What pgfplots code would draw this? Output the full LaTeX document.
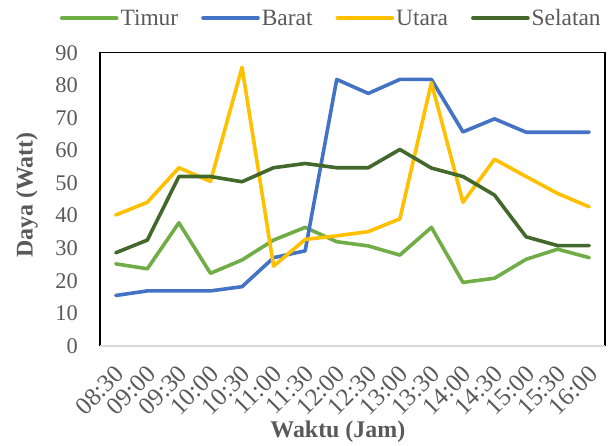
\documentclass[border=0pt]{standalone}
\usepackage{pgfplots}
\pgfplotsset{compat=1.18}
\usepackage{fontspec}
\setmainfont{Liberation Serif}
\definecolor{cTimur}{HTML}{70AD47}
\definecolor{cBarat}{HTML}{4472C4}
\definecolor{cUtara}{HTML}{FFC000}
\definecolor{cSelatan}{HTML}{43682B}
\definecolor{txt}{HTML}{595959}
\definecolor{bot}{HTML}{D9D9D9}
\begin{document}
\begin{tikzpicture}
\begin{axis}[
  scale only axis,
  width=505bp, height=293.3bp,
  xmin=-0.5, xmax=15.5, ymin=0, ymax=90,
  ytick={0,10,...,90},
  xtick={0,...,15},
  xticklabels={08:30,09:00,09:30,10:00,10:30,11:00,11:30,12:00,12:30,13:00,13:30,14:00,14:30,15:00,15:30,16:00},
  major tick length=0pt,
  axis line style={draw=none},
  /pgf/number format/assume math mode=true,
  tick label style={font=\fontsize{22.5}{25}\selectfont, text=txt},
  yticklabel style={inner sep=0pt, anchor=east, xshift=-22bp},
  xticklabel style={font=\fontsize{25}{27}\selectfont, inner sep=0pt, xshift=-2bp, yshift=-18bp, rotate=45, anchor=north east},
  xlabel={Waktu (Jam)},
  ylabel={Daya (Watt)},
  label style={font=\bfseries\fontsize{24}{27}\selectfont, text=txt},
  xlabel style={at={(axis description cs:0.471,0)}, anchor=center, yshift=-86bp},
  ylabel style={at={([xshift=-73bp]axis description cs:0,0.515)}, anchor=center},
  legend columns=4,
  legend style={at={(axis description cs:0.458,1.118)}, anchor=center, draw=none, fill=none,
    font=\fontsize{23.5}{26}\selectfont, text=txt, inner sep=0pt,
    nodes={inner sep=2bp},
    /tikz/every even column/.append style={column sep=21bp}},
  legend image code/.code={\draw[#1] (0bp,0bp) -- (55bp,0bp);},
  every axis plot/.append style={line width=3.6bp, line join=round, line cap=round},
  clip=false,
]
\addplot[cTimur] coordinates {(0,25.2)(1,23.7)(2,37.8)(3,22.3)(4,26.4)(5,32.5)(6,36.4)(7,32.0)(8,30.7)(9,27.9)(10,36.4)(11,19.5)(12,20.8)(13,26.6)(14,29.7)(15,27.1)};
\addlegendentry{Timur}
\addplot[cBarat] coordinates {(0,15.5)(1,16.9)(2,16.9)(3,16.9)(4,18.2)(5,27.1)(6,29.2)(7,81.8)(8,77.5)(9,81.8)(10,81.8)(11,65.7)(12,69.7)(13,65.6)(14,65.6)(15,65.6)};
\addlegendentry{Barat}
\addplot[cUtara] coordinates {(0,40.2)(1,44.1)(2,54.7)(3,50.5)(4,85.5)(5,24.5)(6,32.7)(7,33.8)(8,35.1)(9,39.0)(10,80.8)(11,44.1)(12,57.3)(13,52.0)(14,46.8)(15,42.7)};
\addlegendentry{Utara}
\addplot[cSelatan] coordinates {(0,28.6)(1,32.5)(2,52.0)(3,52.0)(4,50.4)(5,54.7)(6,56.0)(7,54.7)(8,54.7)(9,60.3)(10,54.6)(11,52.0)(12,46.3)(13,33.5)(14,30.8)(15,30.8)};
\addlegendentry{Selatan}
\draw[black, line width=1.3bp] (rel axis cs:0,0) -- (rel axis cs:0,1) -- (rel axis cs:1,1) -- (rel axis cs:1,0);
\draw[bot, line width=1.6bp] (rel axis cs:0,0) -- (rel axis cs:1,0);
\coordinate (bl) at (rel axis cs:0,0);
\coordinate (tr) at (rel axis cs:1,1);
\end{axis}
\pgfresetboundingbox
\path ([xshift=-100bp,yshift=-100bp]bl) rectangle ([xshift=7bp,yshift=52.7bp]tr);
\end{tikzpicture}
\end{document}
